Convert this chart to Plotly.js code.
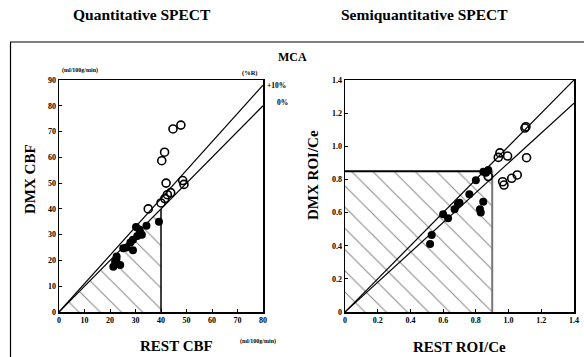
<!DOCTYPE html>
<html><head><meta charset="utf-8">
<script src="https://cdn.plot.ly/plotly-3.0.1.min.js"></script>
<style>html,body{margin:0;padding:0;background:#fff}#c{width:584px;height:357px}</style>
</head><body><div id="c"></div>
<script>
// ---- Quantitative SPECT (CBF, ml/100g/min) ----
const qOpenX   = [35, 40, 41.5, 42.5, 43.8, 42, 48.5, 49, 40.3, 41.4, 44.7, 47.8];
const qOpenY   = [40, 42.3, 44, 45.5, 46.3, 50, 51, 49.5, 58.7, 62, 71, 72.5];
const qFillX   = [39.2, 30.2, 31.5, 34.3, 31.8, 30.7, 32.5, 29, 28, 25.2, 26.5, 29, 22.6, 22, 21.3, 24, 22.5];
const qFillY   = [35, 33, 32, 33.5, 31, 29.5, 30, 28, 27, 24.7, 25, 24, 21.5, 19.5, 17.6, 18.2, 20.5];
const qLineX   = [0, 80];
const qLine0Y  = [0, 80];
const qLine10Y = [0, 88];
const qRegionX = [0, 40, 40, 0];
const qRegionY = [0, 40, 0, 0];
const qTicks   = [0, 10, 20, 30, 40, 50, 60, 70, 80];
const qYTicks  = [0, 10, 20, 30, 40, 50, 60, 70, 80, 90];

// ---- Semiquantitative SPECT (ROI/Ce) ----
const sOpenX   = [0.876, 0.947, 0.937, 0.994, 1.11, 0.964, 0.972, 1.019, 1.053, 1.1, 1.106];
const sOpenY   = [0.817, 0.96, 0.933, 0.941, 0.931, 0.786, 0.766, 0.807, 0.827, 1.11, 1.118];
const sFillX   = [0.52, 0.53, 0.6, 0.63, 0.67, 0.69, 0.7, 0.76, 0.8, 0.83, 0.825, 0.845, 0.846, 0.862, 0.876];
const sFillY   = [0.41, 0.465, 0.59, 0.566, 0.62, 0.652, 0.66, 0.71, 0.795, 0.6, 0.62, 0.666, 0.847, 0.84, 0.857];
const sLineX   = [0, 1.4];
const sLine0Y  = [0, 1.4];
const sLineM10Y= [0, 1.26];
const sRegionX = [0, 0, 0.9, 0.9, 0];
const sRegionY = [0, 0.85, 0.85, 0, 0];
const sTicks   = [0, 0.2, 0.4, 0.6, 0.8, 1.0, 1.2, 1.4];
const sTickText= ['0', '0.2', '0.4', '0.6', '0.8', '1.0', '1.2', '1.4'];

const SERIF = 'Liberation Serif, Times New Roman, serif';
const hatch = {shape: '\\', fgcolor: '#8a8a8a', bgcolor: 'rgba(0,0,0,0)', size: 15, solidity: 0.07};
const openM = {symbol: 'circle-open', size: 8, color: '#000', line: {width: 1.6, color: '#000'}};
const fillM = {symbol: 'circle', size: 8, color: '#000'};

const traces = [
  {x: qRegionX, y: qRegionY, xaxis: 'x', yaxis: 'y', mode: 'lines', fill: 'toself', fillcolor: 'rgba(0,0,0,0)', fillpattern: hatch, line: {width: 0}},
  {x: [qRegionX[1], qRegionX[2]], y: [qRegionY[1], qRegionY[2]], xaxis: 'x', yaxis: 'y', mode: 'lines', line: {color: '#000', width: 1.5}},
  {x: qLineX, y: qLine0Y, xaxis: 'x', yaxis: 'y', mode: 'lines', line: {color: '#000', width: 1.2}},
  {x: qLineX, y: qLine10Y, xaxis: 'x', yaxis: 'y', mode: 'lines', line: {color: '#000', width: 1.2}},
  {x: qFillX, y: qFillY, xaxis: 'x', yaxis: 'y', mode: 'markers', marker: fillM},
  {x: qOpenX, y: qOpenY, xaxis: 'x', yaxis: 'y', mode: 'markers', marker: openM},

  {x: sRegionX, y: sRegionY, xaxis: 'x2', yaxis: 'y2', mode: 'lines', fill: 'toself', fillcolor: 'rgba(0,0,0,0)', fillpattern: hatch, line: {width: 0}},
  {x: [sRegionX[1], sRegionX[2]], y: [sRegionY[1], sRegionY[2]], xaxis: 'x2', yaxis: 'y2', mode: 'lines', line: {color: '#000', width: 2}},
  {x: [sRegionX[2], sRegionX[3]], y: [sRegionY[2], sRegionY[3]], xaxis: 'x2', yaxis: 'y2', mode: 'lines', line: {color: '#777', width: 2}},
  {x: sLineX, y: sLine0Y, xaxis: 'x2', yaxis: 'y2', mode: 'lines', line: {color: '#000', width: 1.2}},
  {x: sLineX, y: sLineM10Y, xaxis: 'x2', yaxis: 'y2', mode: 'lines', line: {color: '#000', width: 1.2}},
  {x: sFillX, y: sFillY, xaxis: 'x2', yaxis: 'y2', mode: 'markers', marker: fillM},
  {x: sOpenX, y: sOpenY, xaxis: 'x2', yaxis: 'y2', mode: 'markers', marker: openM}
];

const W = 584, H = 357;
const px = v => v / W, py = v => 1 - v / H;
const tickFont = {family: SERIF, size: 8, color: '#000', weight: 'bold'};
const axBase = {showgrid: false, zeroline: false, showline: true, mirror: true, linecolor: '#000', linewidth: 1.5,
  ticks: 'inside', ticklen: 3, tickcolor: '#000', tickfont: tickFont, fixedrange: true};

const ann = (x, y, text, size, extra) => Object.assign({xref: 'paper', yref: 'paper', x: px(x), y: py(y), text: text,
  showarrow: false, xanchor: 'center', yanchor: 'middle', font: {family: SERIF, size: size, color: '#000', weight: 'bold'}}, extra || {});

const layout = {
  width: W, height: H, margin: {l: 0, r: 0, t: 0, b: 0}, showlegend: false,
  paper_bgcolor: '#fff', plot_bgcolor: 'rgba(0,0,0,0)',
  xaxis: Object.assign({}, axBase, {domain: [px(59), px(263)], range: [0, 80], tickvals: qTicks, anchor: 'y'}),
  yaxis: Object.assign({}, axBase, {domain: [py(312), py(80)], range: [0, 90], tickvals: qYTicks, anchor: 'x'}),
  xaxis2: Object.assign({}, axBase, {domain: [px(345), px(574)], range: [0, 1.4], tickvals: sTicks, ticktext: sTickText, anchor: 'y2'}),
  yaxis2: Object.assign({}, axBase, {domain: [py(312), py(80)], range: [0, 1.4], tickvals: sTicks, ticktext: sTickText, anchor: 'x2'}),
  shapes: [
    {type: 'line', xref: 'paper', yref: 'paper', x0: px(10), x1: 1, y0: py(42), y1: py(42), line: {color: '#000', width: 1.2}},
    {type: 'line', xref: 'paper', yref: 'paper', x0: px(10.5), x1: px(10.5), y0: py(42), y1: 0, line: {color: '#000', width: 1.2}}
  ],
  annotations: [
    ann(142, 15, 'Quantitative SPECT', 15.5),
    ann(424, 15, 'Semiquantitative SPECT', 15.5),
    ann(292, 57, 'MCA', 12),
    ann(80, 71, '(ml/100g/min)', 6),
    ann(250, 73, '(%R)', 6.5),
    ann(276, 85, '+10%', 7.5),
    ann(282, 103, '0%', 7.5),
    ann(258, 341, '(ml/100g/min)', 6),
    ann(30, 179, 'DMX CBF', 15, {textangle: -90}),
    ann(176, 346, 'REST CBF', 15),
    ann(313, 175, 'DMX ROI/Ce', 15, {textangle: -90}),
    ann(459, 347, 'REST ROI/Ce', 15)
  ]
};

Plotly.newPlot('c', traces, layout, {displayModeBar: false, staticPlot: true});
</script>
</body></html>
